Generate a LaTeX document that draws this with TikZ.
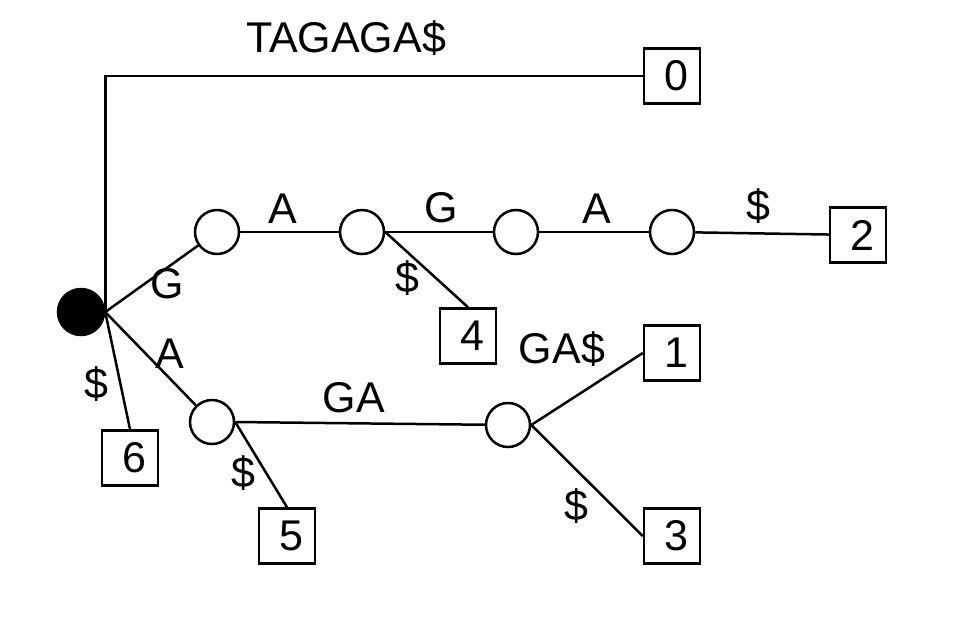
\documentclass[tikz,border=0pt]{standalone}
\usepackage{fontspec}
\setmainfont{Liberation Sans}

\begin{document}
\begin{tikzpicture}[
	x=1pt, y=-1pt,
	line width=2.5pt,
	inner/.style={draw, circle, minimum size=44pt, inner sep=0pt},
	rootnode/.style={draw, fill=black, circle, minimum size=46pt, inner sep=0pt},
	leaf/.style={draw, minimum width=56pt, minimum height=55pt, inner sep=0pt, font=\fontsize{43}{48}\selectfont, execute at begin node=\hspace*{8pt}},
	lbl/.style={anchor=base, inner sep=0pt, font=\fontsize{43}{48}\selectfont}
	]
	\useasboundingbox (0,0) rectangle (974,638);
	
	\node[rootnode] (root) at (81,312) {};
	
	\node[inner] (c1) at (217,232) {};
	\node[inner] (c2) at (362,232) {};
	\node[inner] (c3) at (516,232) {};
	\node[inner] (c4) at (672,232) {};
	\node[inner] (c5) at (212,422) {};
	\node[inner] (c6) at (508,425) {};
	
	\node[leaf] (b0) at (672,76) {0};
	\node[leaf] (b1) at (672,353) {1};
	\node[leaf] (b2) at (858,235) {2};
	\node[leaf] (b3) at (672,536) {3};
	\node[leaf] (b4) at (468,336) {4};
	\node[leaf] (b5) at (287,536) {5};
	\node[leaf] (b6) at (130,458) {6};
	
	\draw (root.east) |- (b0);
	\draw (root.east) -- (c1);
	\draw (c1) -- (c2);
	\draw (c2) -- (c3);
	\draw (c3) -- (c4);
	\draw (c4) -- (b2);
	\draw (c2.east) -- (b4.north);
	\draw (root.east) -- (c5);
	\draw (root.east) -- (b6.north);
	\draw (c5.east) -- (c6);
	\draw (c5.east) -- (b5.north);
	\draw (c6.east) -- (b1.west);
	\draw (c6.east) -- (b3.west);
	
	% edge labels
	\node[lbl] (l0) at (346,52) {TAGAGA\$};
	\node[lbl] (l1) at (167,298) {G};
	\node[lbl] (l2) at (283,223) {A};
	\node[lbl] (l3) at (441,222) {G};
	\node[lbl] (l4) at (597,223) {A};
	\node[lbl] (l5) at (758,220) {\$};
	\node[lbl] (l6) at (407,292) {\$};
	\node[lbl] (l7) at (170,368) {A};
	\node[lbl] (l8) at (96,398) {\$};
	\node[lbl] (l9) at (354,412) {GA};
	\node[lbl] (l10) at (243,487) {\$};
	\node[lbl] (l11) at (562,363) {GA\$};
	\node[lbl] (l12) at (576,520) {\$};
	
\end{tikzpicture}
\end{document}
